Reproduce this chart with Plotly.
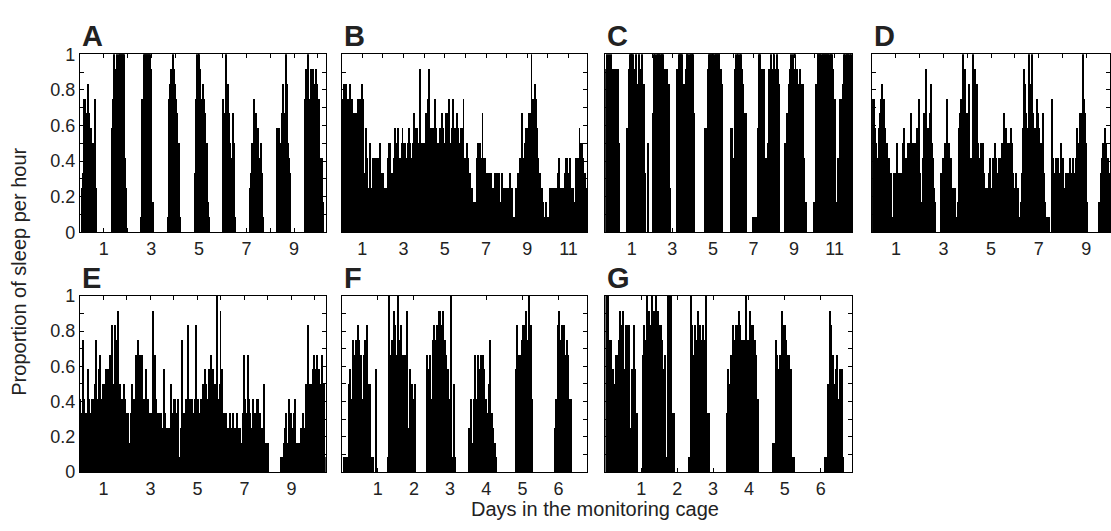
import plotly.graph_objects as go

# Number of 5-minute epochs scored as sleep in each hour (out of 12), one list per animal.
sleep_A = [
    0, 0,
    3, 4, 9, 9, 8, 7, 10, 8, 6, 7, 5, 6, 5, 9, 3,
    0, 0, 0, 0, 0, 0, 0, 0, 0, 0, 0, 0, 0, 0, 0,
    7, 9, 12, 11, 11, 12, 11, 12, 12, 12, 12, 12, 12, 5, 3,
    0, 0, 0, 0, 0, 0, 0, 0, 0, 0, 0, 0, 0, 0,
    1, 9, 9, 12, 12, 12, 12, 12, 12, 12, 11, 2, 2,
    0, 0, 0, 0, 0, 0, 0, 0, 0, 0, 0, 0, 0, 0,
    1, 9, 10, 11, 11, 12, 11, 10, 9, 8, 6, 6, 1,
    0, 0, 0, 0, 0, 0, 0, 0, 0, 0, 0, 0, 0, 0,
    4, 5, 9, 12, 10, 12, 11, 9, 9, 10, 9, 8, 6, 6, 2, 1,
    0, 0, 0, 0, 0, 0, 0, 0, 0, 0, 0, 0, 0,
    9, 8, 5, 12, 4, 10, 8, 6, 5, 3, 8, 6, 1,
    0, 0, 0, 0, 0, 0, 0, 0, 0, 0, 0, 0, 0, 0,
    3, 4, 6, 5, 9, 7, 8, 4, 7, 5, 4, 6, 4, 1,
    0, 0, 0, 0, 0, 0, 0, 0, 0, 0, 0, 0, 0,
    7, 6, 7, 5, 6, 8, 10, 8, 7, 12, 10, 6, 5, 4,
    0, 0, 0, 0, 0, 0, 0, 0, 0, 0, 0, 0, 0, 0,
    9, 11, 10, 12, 11, 9, 9, 11, 10, 11, 10, 9, 11, 10, 9, 9, 5, 5, 5, 2,
    0, 0,
]

sleep_B = [
    9, 9, 10, 9, 10, 9, 9, 8, 9, 10, 9, 9, 7, 8, 7, 7, 8, 7, 9, 8, 9, 9, 8, 10,
    9, 4, 3, 7, 3, 5, 3, 3, 6, 3, 3, 5, 3, 5, 2, 5, 4, 5, 4, 3, 6, 4, 3, 4,
    3, 2, 3, 2, 3, 5, 6, 5, 6, 4, 4, 3, 5, 7, 5, 4, 6, 7, 5, 5, 4, 6, 7, 6,
    5, 6, 5, 4, 6, 7, 5, 6, 5, 4, 6, 8, 7, 6, 7, 7, 5, 6, 11, 5, 5, 6, 4, 6,
    6, 8, 7, 9, 7, 11, 6, 7, 7, 6, 7, 6, 9, 7, 6, 5, 6, 5, 7, 6, 8, 7, 5, 6,
    8, 6, 8, 5, 9, 6, 5, 7, 5, 9, 7, 6, 7, 8, 6, 7, 5, 6, 7, 6, 7, 9, 5, 4,
    5, 6, 5, 4, 3, 4, 2, 3, 1, 2, 0, 2, 2, 5, 6, 5, 6, 4, 5, 8, 5, 4, 5, 3,
    4, 3, 3, 4, 2, 4, 3, 2, 3, 4, 2, 4, 3, 4, 4, 1, 2, 0, 4, 3, 2, 3, 2, 3,
    3, 2, 3, 4, 3, 2, 3, 1, 1, 1, 3, 2, 4, 3, 4, 5, 4, 8, 5, 4, 6, 5, 7, 6,
    7, 8, 6, 8, 12, 9, 7, 9, 10, 9, 7, 4, 5, 3, 4, 2, 3, 1, 2, 1, 1, 2, 1, 1,
    1, 2, 3, 1, 3, 3, 2, 3, 3, 2, 3, 4, 5, 3, 0, 2, 3, 3, 2, 4, 5, 3, 5, 4,
    3, 5, 3, 2, 3, 2, 0, 2, 5, 4, 5, 4, 7, 6, 5, 6, 5, 3, 4, 2, 3, 2,
]

sleep_C = [
    11, 11, 12, 11, 12, 11, 11, 12, 11, 11, 11, 11, 11, 11, 11, 11,
    6,
    0, 0, 0, 0, 0, 0, 0, 0,
    5, 7,
    7, 11, 12, 12, 11, 12, 12, 11, 11, 12, 10, 10, 10, 12, 10, 11, 12, 10, 10, 10,
    4, 0, 0, 6, 6, 0,
    0, 0, 0,
    8, 12, 12, 12, 11, 12, 12, 12, 12, 11, 12, 12, 12, 11, 10, 11, 10, 11, 10, 10,
    3, 3, 0,
    0, 0, 0, 0, 0, 0,
    11, 11, 12, 12, 12, 11, 12, 10, 10, 10, 11, 12, 12, 12, 11, 12, 12, 12, 12, 12, 8,
    0, 0, 0, 0, 0, 0, 0, 0, 0, 0, 0, 0,
    7, 7, 7,
    11, 11, 12, 12, 12, 12, 12, 12, 11, 12, 12, 12, 12, 12, 12, 11, 11, 10,
    0, 0, 0, 0, 0, 0, 0, 0, 0,
    6, 7, 7, 5, 5,
    11, 12, 11, 12, 12, 11, 12, 12, 10, 11, 10, 8, 8, 8,
    5,
    0, 0, 0, 0, 0, 0, 0,
    1, 1, 1, 1, 1,
    5, 7, 12, 12, 11, 11, 7, 11, 11, 4, 5, 5, 6, 11,
    11, 11, 12, 11, 11, 11, 12, 11, 10, 12, 11, 10, 10,
    0, 0, 0, 0, 0,
    2, 6, 6, 8, 8, 10,
    11, 11, 12, 11, 12, 11, 11, 12, 11, 11, 10, 10, 11, 10, 10, 10, 10,
    5, 2, 2,
    0, 0, 0, 0, 0, 0, 0, 0, 0,
    2, 2, 10, 10,
    12, 12, 12, 12, 12, 11, 12, 12, 12, 12, 12, 12, 12, 12, 11, 12, 12, 12, 11,
    6, 6, 9, 2, 2,
    5, 5, 9, 9, 9, 9, 10,
    12, 12, 11, 12, 12, 12, 12, 11, 12, 12,
]

sleep_D = [
    9, 9, 9, 7, 6, 5, 2, 7, 8, 9, 10, 8, 9, 7, 6, 6, 4, 5, 3, 4, 1, 1, 4, 4,
    3, 6, 4, 4, 4, 1, 4, 6, 7, 4, 5, 4, 6, 5, 6, 8, 6, 6, 5, 6, 5, 7, 6, 9,
    4, 2, 0, 5, 8, 7, 11, 6, 7, 5, 8, 10, 6, 5, 3, 2, 0, 0, 0, 0, 0, 4, 4, 5,
    4, 6, 5, 9, 6, 6, 4, 5, 3, 2, 3, 3, 1, 0, 2, 7, 8, 9, 8, 12, 10, 11, 8, 7,
    8, 10, 5, 4, 5, 12, 10, 11, 9, 10, 6, 4, 4, 5, 6, 5, 6, 4, 3, 3, 2, 3, 4, 5,
    3, 1, 5, 4, 6, 5, 4, 3, 5, 5, 4, 6, 5, 8, 6, 7, 5, 6, 6, 5, 7, 6, 4, 0,
    3, 4, 2, 3, 1, 0, 2, 4, 7, 11, 10, 8, 7, 6, 12, 10, 9, 12, 8, 7, 7, 6, 9, 8,
    7, 5, 6, 3, 8, 4, 2, 1, 1, 1, 1, 0, 0, 9, 5, 4, 3, 5, 4, 5, 3, 4, 6, 4,
    5, 3, 2, 4, 4, 3, 4, 5, 3, 4, 5, 4, 2, 5, 7, 6, 5, 8, 7, 8, 12, 9, 8, 6,
    5, 2, 0, 0, 0, 0, 0, 0, 0, 0, 0, 0, 0, 2, 2, 4, 5, 6, 4, 7, 6, 5, 5, 4,
]

sleep_E = [
    5, 3, 4, 9, 5, 4, 3, 4, 7, 5, 4, 3, 5, 5, 2, 6, 9, 5, 4, 7, 8, 5, 2, 6,
    6, 5, 7, 1, 7, 6, 8, 6, 10, 3, 6, 10, 9, 6, 11, 5, 6, 5, 5, 4, 6, 5, 3, 4,
    2, 4, 0, 2, 4, 6, 5, 4, 5, 8, 6, 9, 5, 8, 6, 8, 4, 5, 3, 7, 4, 5, 3, 4,
    4, 3, 11, 6, 8, 5, 4, 3, 4, 3, 4, 2, 3, 7, 4, 3, 2, 3, 2, 3, 6, 4, 3, 5,
    4, 5, 3, 4, 5, 1, 0, 3, 9, 4, 3, 4, 5, 3, 10, 4, 5, 3, 5, 4, 3, 5, 10, 4,
    5, 4, 3, 5, 4, 6, 5, 7, 6, 5, 4, 7, 5, 8, 6, 7, 5, 6, 2, 12, 5, 2, 6, 11,
    6, 7, 4, 4, 3, 4, 3, 2, 3, 4, 3, 3, 4, 3, 2, 3, 4, 3, 2, 3, 2, 0, 4, 8,
    5, 4, 3, 8, 5, 4, 3, 2, 5, 4, 3, 4, 5, 5, 3, 4, 3, 2, 3, 6, 2, 2, 1, 1,
    2, 0, 0, 0, 0, 0, 0, 0, 0, 0, 0, 0, 0, 1, 1, 1, 2, 3, 4, 2, 1, 5, 3, 4,
    1, 3, 4, 5, 1, 2, 2, 1, 2, 3, 3, 4, 2, 3, 6, 5, 10, 6, 5, 6, 5, 7, 6, 8,
    7, 6, 8, 7, 7, 1, 6, 8, 5, 6, 1,
]

sleep_F = [
    0, 1, 1, 1, 6, 7, 5, 9, 8, 9, 10, 9, 8, 5, 8, 9, 10, 6, 6, 1, 1, 0, 7, 0,
    0, 0, 0, 0, 0, 0, 1, 12, 8, 9, 11, 10, 8, 12, 9, 10, 8, 8, 8, 11, 3, 7, 6, 5,
    6, 0, 0, 0, 0, 0, 0, 0, 8, 7, 8, 5, 9, 10, 9, 10, 11, 11, 10, 11, 9, 8, 7, 5,
    12, 1, 6, 1, 0, 0, 0, 0, 0, 0, 0, 0, 3, 5, 2, 5, 8, 5, 8, 7, 8, 8, 7, 5,
    4, 6, 9, 4, 3, 2, 1, 0, 0, 0, 0, 0, 0, 0, 0, 0, 0, 0, 0, 7, 10, 8, 8, 9,
    10, 10, 11, 9, 12, 10, 5, 0, 0, 0, 0, 0, 0, 0, 0, 0, 0, 0, 0, 0, 0, 3, 5, 10,
    11, 9, 10, 10, 8, 9, 8, 5, 5, 0, 0, 0, 0, 0, 0, 0, 0, 0, 0,
]

sleep_G = [
    12, 9, 12, 9, 9, 7, 6, 8, 8, 9, 11, 10, 11, 7, 10, 10, 10, 3, 7, 10, 7, 4, 0, 0,
    0, 8, 10, 9, 12, 11, 10, 12, 11, 11, 12, 11, 10, 10, 9, 7, 8, 1, 12, 12, 12, 4, 4, 0,
    0, 0, 0, 0, 0, 0, 0, 0, 1, 12, 10, 8, 10, 9, 11, 10, 9, 10, 9, 12, 4, 4, 0, 0,
    0, 0, 0, 0, 0, 0, 0, 0, 0, 4, 7, 6, 8, 10, 9, 10, 10, 11, 10, 9, 8, 9, 12, 9,
    9, 11, 10, 10, 9, 8, 5, 0, 0, 0, 0, 0, 0, 0, 0, 0, 2, 2, 9, 8, 7, 8, 11, 10,
    10, 9, 8, 8, 7, 1, 1, 0, 0, 0, 0, 0, 0, 0, 0, 0, 0, 0, 0, 0, 0, 0, 0, 0,
    0, 0, 0, 1, 1, 6, 11, 10, 8, 6, 7, 8, 5, 7, 7, 1, 0, 0, 0, 0, 0,
]

panel_labels = ["A", "B", "C", "D", "E", "F", "G"]
panel_data = [sleep_A, sleep_B, sleep_C, sleep_D, sleep_E, sleep_F, sleep_G]
panel_start_day = [0.0, 0.0, -0.3, 0.0, 0.0, 0.0, 0.0]
panel_xmax = [10.33, 11.92, 11.87, 10.0, 10.46, 6.8, 6.88]
panel_day_ticks = [
    [1, 2, 3, 4, 5, 6, 7, 8, 9, 10],
    [1, 2, 3, 4, 5, 6, 7, 8, 9, 10, 11],
    [1, 2, 3, 4, 5, 6, 7, 8, 9, 10, 11],
    [1, 2, 3, 4, 5, 6, 7, 8, 9, 10],
    [1, 2, 3, 4, 5, 6, 7, 8, 9, 10],
    [1, 2, 3, 4, 5, 6],
    [1, 2, 3, 4, 5, 6],
]
panel_day_labels = [
    ["1", "", "3", "", "5", "", "7", "", "9", ""],
    ["1", "", "3", "", "5", "", "7", "", "9", "", "11"],
    ["1", "", "3", "", "5", "", "7", "", "9", "", "11"],
    ["1", "", "3", "", "5", "", "7", "", "9", ""],
    ["1", "", "3", "", "5", "", "7", "", "9", ""],
    ["1", "2", "3", "4", "5", "6"],
    ["1", "2", "3", "4", "5", "6"],
]
y_tick_vals = [0, 0.1, 0.2, 0.3, 0.4, 0.5, 0.6, 0.7, 0.8, 0.9, 1.0]
y_tick_text = ["0", "", "0.2", "", "0.4", "", "0.6", "", "0.8", "", "1"]
epochs_per_hour = 12
hours_per_day = 24

W, H = 1111, 531
# pixel boxes of the panels: (left, right) per column, (top, bottom) per row
col_px = [(80, 326), (342, 588), (606, 853), (873, 1111)]
row_px = [(46, 231), (297, 480)]
panel_pos = [(0, 0), (0, 1), (0, 2), (0, 3), (1, 0), (1, 1), (1, 2)]

FONT = "Liberation Sans, Arial, Helvetica, sans-serif"
TXT = "#222222"
TICK_SIZE = 18
TITLE_SIZE = 20
LETTER_SIZE = 29

fig = go.Figure()
annotations = []
for i, lab in enumerate(panel_labels):
    vals = panel_data[i]
    start = panel_start_day[i]
    xs = [start + (h + 0.5) / hours_per_day for h in range(len(vals))]
    ys = [v / epochs_per_hour for v in vals]
    n = i + 1
    fig.add_trace(go.Bar(
        x=xs, y=ys, width=1.0 / hours_per_day,
        marker=dict(color="black", line=dict(width=0), opacity=0.999),
        xaxis="x" if n == 1 else f"x{n}", yaxis="y" if n == 1 else f"y{n}",
        showlegend=False, hoverinfo="skip",
    ))
    r, c = panel_pos[i]
    l, rr = col_px[c]
    t, b = row_px[r]
    xdom = [l / W, min(rr / W, 1.0)]
    ydom = [(H - b) / H, (H - t) / H]
    axx = "xaxis" if n == 1 else f"xaxis{n}"
    axy = "yaxis" if n == 1 else f"yaxis{n}"
    common = dict(showline=True, linecolor="black", linewidth=1, mirror="ticks",
                  ticks="inside", ticklen=4, tickwidth=1, tickcolor="black",
                  showgrid=False, zeroline=False,
                  tickfont=dict(family=FONT, size=TICK_SIZE, color=TXT))
    fig.update_layout(**{
        axx: dict(domain=xdom, range=[start, panel_xmax[i]],
                  anchor="y" if n == 1 else f"y{n}",
                  tickmode="array", tickvals=panel_day_ticks[i],
                  ticktext=panel_day_labels[i], **common),
        axy: dict(domain=ydom, range=[0, 1],
                  anchor="x" if n == 1 else f"x{n}",
                  tickmode="array", tickvals=y_tick_vals,
                  ticktext=y_tick_text if c == 0 else [""] * len(y_tick_vals),
                  **common),
    })
    annotations.append(dict(
        text=f"<b>{lab}</b>", xref="paper", yref="paper",
        x=l / W, y=(H - t) / H, xanchor="left", yanchor="bottom", yshift=0,
        showarrow=False, font=dict(family=FONT, size=LETTER_SIZE, color=TXT)))

annotations.append(dict(
    text="Proportion of sleep per hour", xref="paper", yref="paper",
    x=19 / W, y=(H - 272) / H, xanchor="center", yanchor="middle",
    textangle=-90, showarrow=False, font=dict(family=FONT, size=TITLE_SIZE, color=TXT)))
annotations.append(dict(
    text="Days in the monitoring cage", xref="paper", yref="paper",
    x=596 / W, y=(H - 519) / H, xanchor="center", yanchor="middle",
    showarrow=False, font=dict(family=FONT, size=TITLE_SIZE, color=TXT)))

fig.update_layout(
    width=W, height=H, margin=dict(l=0, r=0, t=0, b=0),
    paper_bgcolor="white", plot_bgcolor="white",
    bargap=0, bargroupgap=0, annotations=annotations,
    font=dict(family=FONT, color=TXT),
)
fig.write_html("out.html", config={"displayModeBar": False},
               post_script="document.body.style.margin='0px';document.body.style.overflow='hidden';")
